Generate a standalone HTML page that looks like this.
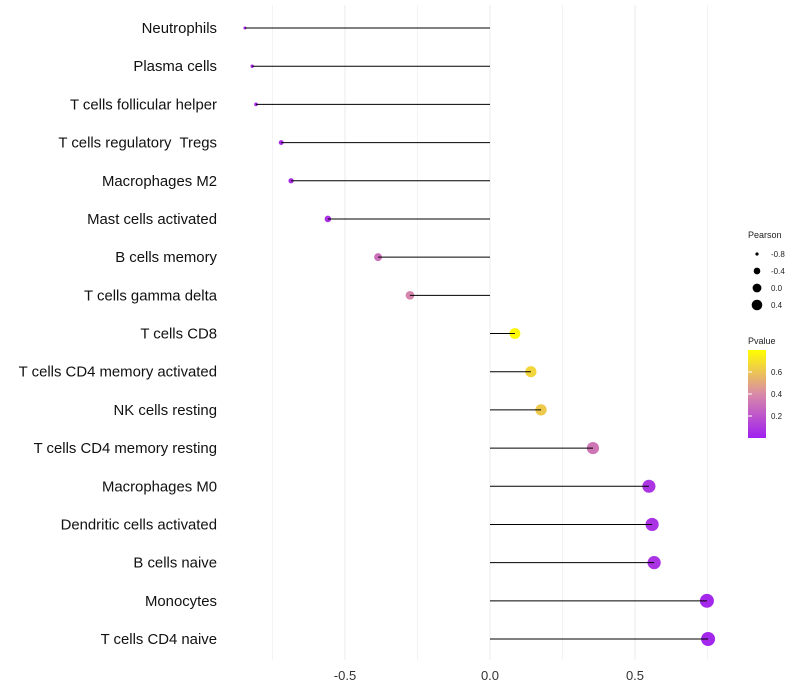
<!DOCTYPE html>
<html><head><meta charset="utf-8"><style>
body{margin:0;background:#fff;font-family:"Liberation Sans",sans-serif}
svg{display:block}
</style></head><body>
<svg id="chart" width="800" height="700">
<defs><linearGradient id="pg" x1="0" y1="1" x2="0" y2="0">
<stop offset="0" stop-color="#A020F0"/><stop offset="0.5" stop-color="#D98AA8"/><stop offset="1" stop-color="#FFFF00"/></linearGradient></defs>
<g id="grid"></g><g id="points"></g><g id="marks"></g><g id="labels"></g>
<g font-size="9">
<text x="748" y="238" fill="#222">Pearson</text>
<g id="sizeleg"></g>
<text x="748" y="344" fill="#222">Pvalue</text>
<rect x="748" y="350" width="18" height="88" fill="url(#pg)"/>
<g id="colleg"></g>
</g>
</svg>
<script>
const categories=["Neutrophils","Plasma cells","T cells follicular helper","T cells regulatory  Tregs","Macrophages M2","Mast cells activated","B cells memory","T cells gamma delta","T cells CD8","T cells CD4 memory activated","NK cells resting","T cells CD4 memory resting","Macrophages M0","Dendritic cells activated","B cells naive","Monocytes","T cells CD4 naive"];
const pearson=[-0.845,-0.82,-0.807,-0.72,-0.686,-0.559,-0.386,-0.276,0.086,0.141,0.176,0.355,0.548,0.559,0.566,0.748,0.752];
const pvalue=[0.03,0.04,0.04,0.05,0.05,0.06,0.3,0.38,0.78,0.66,0.62,0.32,0.08,0.07,0.07,0.03,0.03];
const xTicks=[-0.5,0,0.5];
const xTickLabels=["-0.5","0.0","0.5"];
const sizeTicks=[-0.8,-0.4,0.0,0.4];
const colTicks=[0.2,0.4,0.6];
const NS="http://www.w3.org/2000/svg";
const xs=v=>490+v*290;
const ys=i=>28+i*(611/16);
const rs=v=>Math.sqrt(Math.max(1.5,27+29.3*v));
const pc=p=>{const t=Math.max(0,Math.min(1,p/0.8));
 const a=[160,32,240],m=[217,138,168],b=[255,255,0];let c;
 if(t<0.5){const u=t/0.5;c=a.map((x,k)=>x+(m[k]-x)*u)}else{const u=(t-0.5)/0.5;c=m.map((x,k)=>x+(b[k]-x)*u)}
 return`rgb(${c.map(Math.round).join(",")})`;};
const cs=p=>438-p/0.8*88;
function mk(tag,at,par){const e=document.createElementNS(NS,tag);for(const k in at)e.setAttribute(k,at[k]);document.getElementById(par).appendChild(e);return e;}
for(let v=-0.75;v<=0.76;v+=0.25){const major=Math.abs(v*4)%2<0.01;const l=mk("line",{x1:xs(v),x2:xs(v),y1:5,y2:660,stroke:major?"#ebebeb":"#f3f3f3","stroke-width":1},"grid");

}
xTicks.forEach((v,i)=>{const t=mk("text",{x:xs(v),y:680,"text-anchor":"middle","font-size":13,fill:"#333"},"labels");t.textContent=xTickLabels[i];

});
categories.forEach((c,i)=>{const y=ys(i);
const ci=mk("circle",{cx:xs(pearson[i]),cy:y,r:rs(pearson[i]),fill:pc(pvalue[i])},"points");


const ln=mk("line",{x1:xs(0),x2:xs(pearson[i]),y1:y,y2:y,stroke:"#000","stroke-width":1},"marks");


const t=mk("text",{x:217,y:y+5,"text-anchor":"end","font-size":14.9,fill:"#111",style:"white-space:pre"},"labels");t.textContent=c;

});
sizeTicks.forEach((v,i)=>{const y=254+i*17;
const c=mk("circle",{cx:757,cy:y,r:rs(v)*0.85,fill:"#000"},"sizeleg");


const t=mk("text",{x:771,y:y+3,"font-size":8,fill:"#222"},"sizeleg");t.textContent=v.toFixed(1);

});
colTicks.forEach(v=>{const y=cs(v);
const t=mk("text",{x:771,y:y+3,"font-size":8,fill:"#222"},"colleg");t.textContent=v.toFixed(1);


const l=mk("line",{x1:748,x2:752,y1:y,y2:y,stroke:"#fff"},"colleg");

});
</script>
</body></html>
